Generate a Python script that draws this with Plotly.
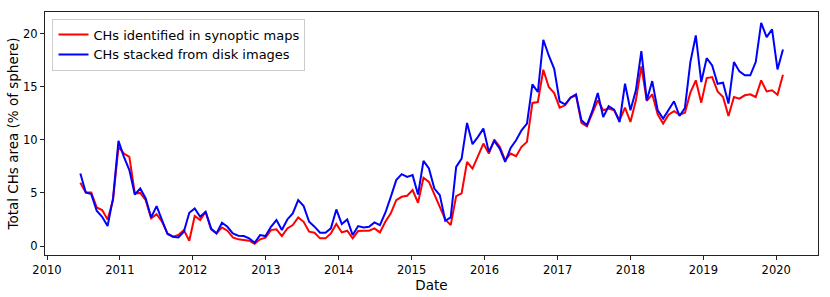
import datetime as dt
import plotly.graph_objects as go

# Carrington-rotation cadence (days) and first rotation mid-date
CR_DAYS = 27.2753
START = dt.datetime(2010, 6, 17)

synoptic = [
    5.95, 5.04, 5.04, 3.63, 3.38, 2.50, 4.32, 9.33, 8.70, 8.39,
    4.95, 5.00, 4.32, 2.60, 3.00, 2.28, 1.19, 0.88, 1.03, 1.50,
    0.50, 2.82, 2.44, 3.22, 1.57, 1.19, 1.75, 1.44, 0.81, 0.63,
    0.56, 0.50, 0.22, 0.63, 0.78, 1.50, 1.57, 0.94, 1.66, 1.97,
    2.69, 2.28, 1.35, 1.25, 0.72, 0.72, 1.19, 2.07, 1.28, 1.44,
    0.72, 1.41, 1.44, 1.44, 1.66, 1.28, 2.28, 3.07, 4.32, 4.63,
    4.73, 5.26, 4.07, 6.42, 6.04, 4.88, 3.69, 2.50, 1.97, 4.70,
    4.95, 7.92, 7.29, 8.39, 9.64, 8.70, 10.02, 9.33, 8.08, 8.70,
    8.45, 9.33, 9.80, 13.46, 13.55, 16.59, 14.96, 14.39, 13.02, 13.24,
    13.96, 14.18, 11.58, 11.27, 12.52, 13.71, 12.77, 12.93, 12.77, 11.83,
    13.02, 11.67, 13.71, 16.90, 13.65, 14.27, 12.40, 11.52, 12.36, 12.68,
    12.36, 12.55, 14.43, 15.59, 13.49, 15.80, 15.90, 14.55, 14.02, 12.24,
    14.02, 13.87, 14.18, 14.27, 14.02, 15.59, 14.55, 14.65, 14.24, 16.12,
]

stacked = [
    6.82, 5.04, 4.88, 3.32, 2.75, 1.88, 4.48, 9.89, 8.39, 7.14,
    4.85, 5.41, 4.48, 2.69, 3.76, 2.44, 1.13, 0.88, 0.81, 1.35,
    3.13, 3.54, 2.75, 3.22, 1.66, 1.19, 2.19, 1.81, 1.19, 0.97,
    0.94, 0.72, 0.31, 1.03, 0.94, 1.81, 2.44, 1.50, 2.50, 3.07,
    4.32, 3.76, 2.28, 1.82, 1.25, 1.25, 1.66, 3.44, 2.07, 2.50,
    1.03, 1.88, 1.75, 1.82, 2.22, 1.97, 3.13, 4.63, 6.20, 6.76,
    6.50, 6.67, 4.85, 8.01, 7.29, 5.41, 4.79, 2.38, 2.69, 7.45,
    8.23, 11.58, 9.58, 10.27, 11.05, 8.86, 9.89, 9.17, 7.92, 9.23,
    9.95, 10.89, 11.52, 15.21, 14.49, 19.41, 17.93, 16.68, 13.60, 13.33,
    13.96, 14.27, 11.83, 11.36, 12.71, 14.39, 12.14, 13.15, 12.83, 11.67,
    15.27, 12.77, 14.65, 18.34, 13.71, 15.52, 12.77, 11.99, 12.77, 13.62,
    12.24, 12.99, 17.31, 19.81, 15.43, 17.68, 17.00, 15.27, 15.37, 13.40,
    17.31, 16.43, 16.06, 16.06, 17.31, 21.00, 19.65, 20.38, 16.62, 18.50,
]

dates = [START + dt.timedelta(days=CR_DAYS * i) for i in range(len(synoptic))]

names = ["CHs identified in synoptic maps", "CHs stacked from disk images"]
colors = ["#ff0000", "#0000ff"]

fig = go.Figure()
for name, vals, col in zip(names, [synoptic, stacked], colors):
    fig.add_trace(go.Scatter(x=dates, y=vals, mode="lines", name=name,
                             line=dict(color=col, width=2)))

font = "DejaVu Sans, Arial, sans-serif"
axis_common = dict(showline=True, linecolor="#222222", linewidth=1, mirror=True,
                   ticks="outside", ticklen=4, tickwidth=1, tickcolor="#222222",
                   showgrid=False, zeroline=False, automargin=False,
                   tickfont=dict(family=font, size=11.5, color="black"))

fig.update_layout(
    width=830, height=297,
    margin=dict(l=44.5, r=12.3, t=11.5, b=42, autoexpand=False),
    paper_bgcolor="white", plot_bgcolor="white",
    font=dict(family=font, color="black"),
    xaxis=dict(range=["2009-12-22", "2020-07-28"], type="date",
               tick0="2010-01-01", dtick="M12", tickformat="%Y",
               title=dict(text="Date", font=dict(family=font, size=13.5), standoff=1),
               **axis_common),
    yaxis=dict(range=[-0.845, 22.02], tickvals=[0, 5, 10, 15, 20],
               title=dict(text="Total CHs area (% of sphere)", font=dict(family=font, size=13.5), standoff=1),
               **axis_common),
    legend=dict(x=0.0097, y=0.973, xanchor="left", yanchor="top",
                bgcolor="rgba(255,255,255,0.8)", bordercolor="#cccccc", borderwidth=1,
                font=dict(family=font, size=13), tracegroupgap=0, itemwidth=30),
    showlegend=True,
)

fig.write_html("out.html", config={"displayModeBar": False},
               post_script="document.body.style.margin='0';document.body.style.overflow='hidden';")
